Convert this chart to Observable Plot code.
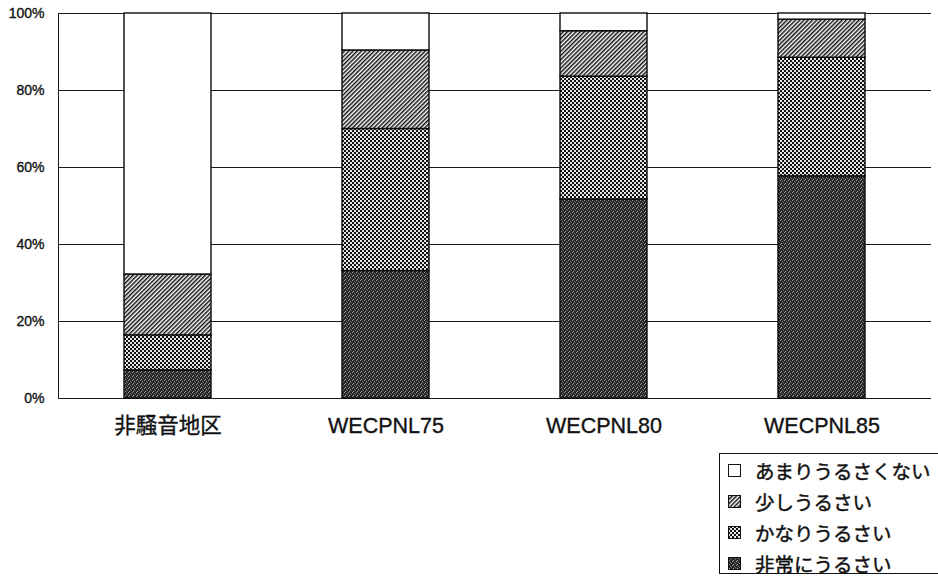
<!DOCTYPE html>
<html>
<head>
<meta charset="utf-8">
<script src="https://cdn.jsdelivr.net/npm/d3@7"></script>
<script src="https://cdn.jsdelivr.net/npm/@observablehq/plot@0.6"></script>
<style>
  body { margin: 0; background: white; font-family: "Liberation Sans", "Noto Sans CJK JP", sans-serif; }
  #wrap { position: relative; width: 938px; height: 579px; }
  #legend {
    position: absolute; left: 719px; top: 453px; width: 222px; height: 121px;
    border: 1px solid #111; box-sizing: border-box; padding: 1px 0 0 8px;
    font-family: "Noto Sans CJK JP", sans-serif; font-size: 19.5px; color: #111;
    background: white; -webkit-text-stroke: 0.45px #111;
  }
  .row { height: 31px; display: flex; align-items: center; white-space: nowrap; }
  .row svg { margin-right: 14px; flex: none; }
  #chart svg g[aria-label$="axis tick label"] text { stroke: #111; stroke-width: 0.35px; }
</style>
</head>
<body>
<svg width="0" height="0" style="position:absolute">
  <defs>
    <pattern id="p-hijou" width="4" height="4" patternUnits="userSpaceOnUse">
      <rect width="4" height="4" fill="#262626" shape-rendering="crispEdges"/>
      <rect x="0" y="0" width="1" height="1" fill="#9a9a9a" shape-rendering="crispEdges"/>
      <rect x="2" y="1" width="1" height="1" fill="#7a7a7a" shape-rendering="crispEdges"/>
      <rect x="1" y="3" width="1" height="1" fill="#aaa" shape-rendering="crispEdges"/>
      <rect x="3" y="2" width="1" height="1" fill="#6a6a6a" shape-rendering="crispEdges"/>
    </pattern>
    <pattern id="p-kanari" width="4" height="4" patternUnits="userSpaceOnUse">
      <rect width="4" height="4" fill="#121212" shape-rendering="crispEdges"/>
      <rect x="0" y="0" width="2" height="2" fill="#e6e6e6" shape-rendering="crispEdges"/>
      <rect x="2" y="2" width="2" height="2" fill="#e6e6e6" shape-rendering="crispEdges"/>
    </pattern>
    <pattern id="p-sukoshi" width="3" height="3" patternUnits="userSpaceOnUse" patternTransform="rotate(45)">
      <rect width="3" height="3" fill="white"/>
      <rect x="0" y="0" width="1.5" height="3" fill="#111"/>
    </pattern>
    <pattern id="p-amari" width="4" height="4" patternUnits="userSpaceOnUse">
      <rect width="4" height="4" fill="white"/>
    </pattern>
  </defs>
</svg>
<div id="wrap">
  <div id="chart"></div>
  <div id="legend"></div>
</div>
<script>
// ---- data ----
const categories = ["非騒音地区", "WECPNL75", "WECPNL80", "WECPNL85"];
const seriesNames = ["非常にうるさい", "かなりうるさい", "少しうるさい", "あまりうるさくない"];
const hijou   = [7.3, 33.1, 51.7, 57.7];   // 非常にうるさい
const kanari  = [9.1, 36.9, 31.9, 30.8];   // かなりうるさい
const sukoshi = [15.8, 20.4, 11.8, 9.9];   // 少しうるさい
const amari   = [67.8, 9.6, 4.6, 1.6];     // あまりうるさくない
const yTicks = [0, 20, 40, 60, 80, 100];
const yTickLabels = ["0%", "20%", "40%", "60%", "80%", "100%"];
const legendOrder = ["あまりうるさくない", "少しうるさい", "かなりうるさい", "非常にうるさい"];

// ---- styles ----
const patternOf = {
  "非常にうるさい": "url(#p-hijou)",
  "かなりうるさい": "url(#p-kanari)",
  "少しうるさい": "url(#p-sukoshi)",
  "あまりうるさくない": "url(#p-amari)"
};

const valuesBySeries = [hijou, kanari, sukoshi, amari];
const rows = [];
categories.forEach((c, i) => {
  seriesNames.forEach((s, j) => rows.push({cat: c, series: s, value: valuesBySeries[j][i]}));
});

const chart = Plot.plot({
  width: 938,
  height: 450,
  marginLeft: 58,
  marginRight: 7,
  marginTop: 13,
  marginBottom: 52,
  style: {fontFamily: "'Liberation Sans', 'Noto Sans CJK JP', sans-serif", background: "white", color: "#111"},
  x: {domain: categories, paddingInner: 0.6, paddingOuter: 0.3},
  y: {domain: [0, 100]},
  color: {type: "identity"},
  marks: [
    Plot.ruleY(yTicks, {stroke: "#1a1a1a", strokeWidth: 1}),
    Plot.frame({anchor: "left", stroke: "#1a1a1a"}),
    Plot.barY(rows, {
      x: "cat", y: "value",
      fill: d => patternOf[d.series],
      stroke: "#0a0a0a", strokeWidth: 1.4
    }),
    Plot.axisY(yTicks, {
      tickSize: 0, tickPadding: 14, fontSize: 14, label: null,
      tickFormat: d => yTickLabels[yTicks.indexOf(d)]
    }),
    Plot.axisX({tickSize: 0, tickPadding: 19, fontSize: 21.5, label: null})
  ]
});
document.getElementById("chart").appendChild(chart);

// ---- legend ----
const legend = d3.select("#legend");
legendOrder.forEach(name => {
  const row = legend.append("div").attr("class", "row");
  const sw = row.append("svg").attr("width", 13).attr("height", 13);
  sw.append("rect").attr("x", 0.5).attr("y", 0.5).attr("width", 12).attr("height", 12)
    .attr("fill", patternOf[name]).attr("stroke", "#111").attr("stroke-width", 1);
  row.append("span").text(name);
});
</script>
</body>
</html>
